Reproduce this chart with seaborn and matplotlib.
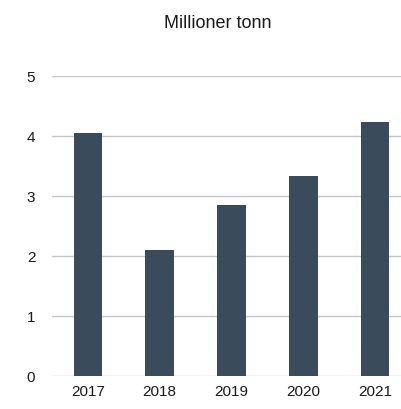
import pandas as pd
import seaborn as sns
import matplotlib.pyplot as plt

years = ['2017', '2018', '2019', '2020', '2021']
values = [4.05, 2.11, 2.86, 3.33, 4.23]

df = pd.DataFrame({'year': years, 'value': values})

sns.set_style('white')
plt.rcParams['font.family'] = ['Liberation Sans', 'DejaVu Sans']

fig = plt.figure(figsize=(4.01, 4.091), dpi=100)
ax = fig.add_axes([52 / 401, 32.5 / 409, 359 / 401, 300.5 / 409])
sns.barplot(df, x='year', y='value', color='#3a4b5c', width=0.4, saturation=1,
            linewidth=0, ax=ax)

ax.set_ylim(0, 5)
ax.set_xlim(-0.5, 4.5)
ax.set_yticks([0, 1, 2, 3, 4, 5])
ax.yaxis.grid(True, color='#c6c6c6', linewidth=1)
ax.set_axisbelow(True)
for s in ax.spines.values():
    s.set_visible(False)
ax.tick_params(axis='both', length=0, labelsize=11, colors='#1a1a1a')
ax.tick_params(axis='y', pad=12)
ax.tick_params(axis='x', pad=6)
ax.set_xlabel(None)
ax.set_ylabel(None)
fig.text(218 / 401, 1 - 23 / 409, 'Millioner tonn', ha='center', va='center',
         fontsize=13, color='#1a1a1a')

plt.savefig('out.png', dpi=100)
